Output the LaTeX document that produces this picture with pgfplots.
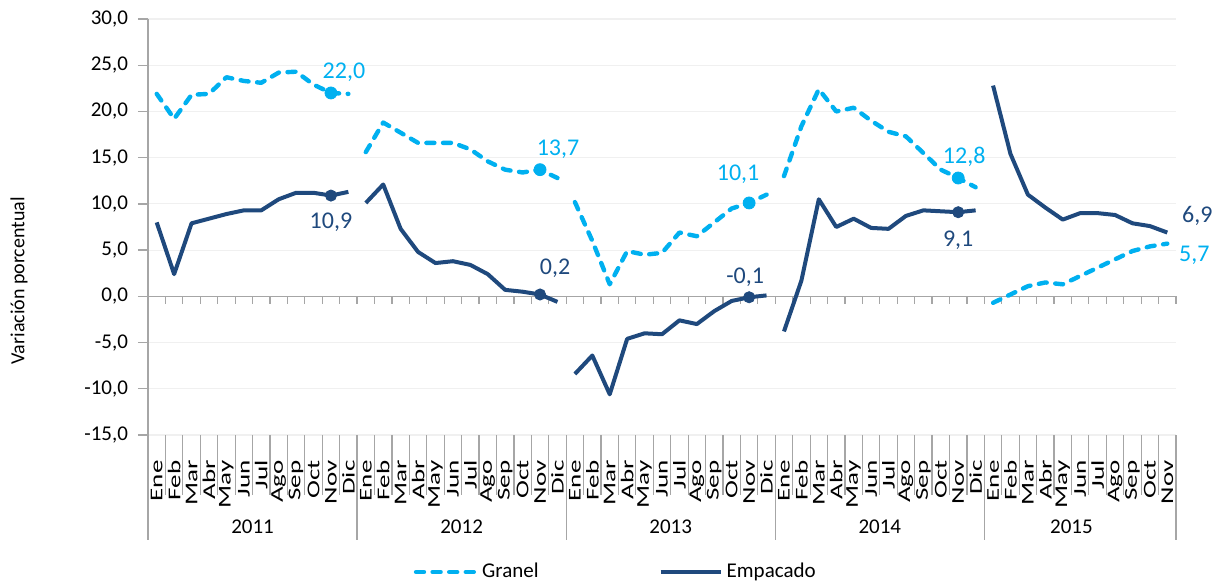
\documentclass[border=0pt]{standalone}
\usepackage{fontspec}
\setmainfont{Carlito}
\newfontfamily\monthfont[FakeStretch=1.5]{Carlito}
\usepackage{pgfplots}
\pgfplotsset{compat=1.18}
\definecolor{granel}{HTML}{00B0F0}
\definecolor{empac}{HTML}{1F497D}
\definecolor{axgray}{HTML}{A6A6A6}
\definecolor{gridgray}{HTML}{F0F0F0}
\begin{document}
\begin{tikzpicture}
\begin{axis}[
  scale only axis,
  width=514pt, height=208pt,
  xmin=-0.5, xmax=58.5,
  ymin=-15, ymax=30,
  ytick={-15,-10,...,30},
  ymajorgrids,
  grid style={gridgray, line width=0.6pt},
  axis x line=bottom,
  axis y line=left,
  x axis line style={draw=none},
  y axis line style={axgray, line width=0.7pt, -},
  ytick style={axgray, line width=0.7pt},
  xtick style={draw=none},
  tick align=outside,
  major tick length=5pt,
  yticklabel style={font=\fontsize{10.5}{12}\selectfont, xshift=-1.5pt},
  /pgf/number format/.cd, fixed, fixed zerofill, precision=1, use comma, assume math mode=true,
  /pgfplots/.cd,
  xtick={0,...,58},
  xticklabels={Ene,Feb,Mar,Abr,May,Jun,Jul,Ago,Sep,Oct,Nov,Dic,
               Ene,Feb,Mar,Abr,May,Jun,Jul,Ago,Sep,Oct,Nov,Dic,
               Ene,Feb,Mar,Abr,May,Jun,Jul,Ago,Sep,Oct,Nov,Dic,
               Ene,Feb,Mar,Abr,May,Jun,Jul,Ago,Sep,Oct,Nov,Dic,
               Ene,Feb,Mar,Abr,May,Jun,Jul,Ago,Sep,Oct,Nov},
  xticklabel style={yshift=-7.5pt, rotate=90, anchor=east, inner sep=0pt,
                    font=\monthfont\fontsize{9}{9}\selectfont},
  clip=false,
  unbounded coords=jump,
  legend columns=2,
  legend style={draw=none, fill=none, at={(0.456,0)}, anchor=center, yshift=-68.5pt,
                font=\fontsize{10.5}{12}\selectfont,
                /tikz/every even column/.append style={column sep=58pt}},
  legend image code/.code={\draw[#1] (0pt,0pt) -- (30pt,0pt);},
]
% zero line and ticks
\draw[axgray, line width=0.7pt] (axis cs:-0.5,0) -- (axis cs:58.5,0);
\pgfplotsinvokeforeach{-0.5,0.5,1.5,2.5,3.5,4.5,5.5,6.5,7.5,8.5,9.5,10.5,11.5,12.5,13.5,14.5,15.5,16.5,17.5,18.5,19.5,20.5,21.5,22.5,23.5,24.5,25.5,26.5,27.5,28.5,29.5,30.5,31.5,32.5,33.5,34.5,35.5,36.5,37.5,38.5,39.5,40.5,41.5,42.5,43.5,44.5,45.5,46.5,47.5,48.5,49.5,50.5,51.5,52.5,53.5,54.5,55.5,56.5,57.5,58.5}{
  \draw[axgray, line width=0.6pt] (axis cs:#1,0) -- (axis cs:#1,-0.87);
  \draw[axgray, line width=0.6pt] (axis cs:#1,-15) -- (axis cs:#1,-21.5);
}
\pgfplotsinvokeforeach{-0.5,11.5,23.5,35.5,47.5,58.5}{
  \draw[axgray, line width=0.6pt] (axis cs:#1,-21.5) -- (axis cs:#1,-26.36);
}
% year labels
\node[font=\fontsize{10.5}{12}\selectfont] at (axis cs:5.5,-24.95) {2011};
\node[font=\fontsize{10.5}{12}\selectfont] at (axis cs:17.5,-24.95) {2012};
\node[font=\fontsize{10.5}{12}\selectfont] at (axis cs:29.5,-24.95) {2013};
\node[font=\fontsize{10.5}{12}\selectfont] at (axis cs:41.5,-24.95) {2014};
\node[font=\fontsize{10.5}{12}\selectfont] at (axis cs:52.5,-24.95) {2015};
% y label
\node[rotate=90, font=\fontsize{10}{12}\selectfont] at ([xshift=-64.5pt]axis cs:-0.5,1.7) {Variación porcentual};

\addplot[granel, line width=2.2pt, dash pattern=on 4pt off 4.3pt, line cap=round, line join=round] table {
x y
0 21.9
1 19.2
2 21.8
3 21.9
4 23.7
5 23.3
6 23.1
7 24.2
8 24.3
9 22.9
10 22.0
11 21.9
11.5 nan
12 15.6
13 18.8
14 17.7
15 16.6
16 16.6
17 16.6
18 15.9
19 14.6
20 13.7
21 13.4
22 13.7
23 12.8
23.5 nan
24 10.2
25 6.0
26 1.3
27 4.9
28 4.5
29 4.7
30 6.9
31 6.5
32 8.0
33 9.5
34 10.1
35 11.0
35.5 nan
36 13.0
37 18.4
38 22.4
39 20.0
40 20.4
41 19.0
42 17.8
43 17.3
44 15.5
45 13.7
46 12.8
47 11.8
47.5 nan
48 -0.7
49 0.2
50 1.1
51 1.5
52 1.3
53 2.2
54 3.1
55 4.0
56 4.9
57 5.4
58 5.7
};
\addlegendentry{Granel}
\addplot[empac, line width=2pt, line join=round] table {
x y
0 8.0
1 2.4
2 7.9
3 8.4
4 8.9
5 9.3
6 9.3
7 10.5
8 11.2
9 11.2
10 10.9
11 11.3
11.5 nan
12 10.1
13 12.1
14 7.3
15 4.8
16 3.6
17 3.8
18 3.4
19 2.4
20 0.7
21 0.5
22 0.2
23 -0.6
23.5 nan
24 -8.4
25 -6.4
26 -10.6
27 -4.6
28 -4.0
29 -4.1
30 -2.6
31 -3.0
32 -1.6
33 -0.5
34 -0.1
35 0.1
35.5 nan
36 -3.8
37 1.7
38 10.5
39 7.5
40 8.4
41 7.4
42 7.3
43 8.7
44 9.3
45 9.2
46 9.1
47 9.3
47.5 nan
48 22.8
49 15.4
50 11.0
51 9.6
52 8.3
53 9.0
54 9.0
55 8.8
56 7.9
57 7.6
58 6.9
};
\addlegendentry{Empacado}
% markers
\addplot[only marks, mark=*, mark size=3pt, granel, forget plot] coordinates {(10,22.0) (22,13.7) (34,10.1) (46,12.8)};
\addplot[only marks, mark=*, mark size=2.8pt, empac, forget plot] coordinates {(10,10.9) (22,0.2) (34,-0.1) (46,9.1)};
% data labels
\begin{scope}[every node/.style={font=\fontsize{12}{14}\selectfont, inner sep=0pt}]
\node[granel] at ([xshift=6.5pt,yshift=10.5pt]axis cs:10,22.0) {22,0};
\node[empac]  at ([xshift=0pt,yshift=-13.5pt]axis cs:10,10.9) {10,9};
\node[granel] at ([xshift=9pt,yshift=10pt]axis cs:22,13.7) {13,7};
\node[empac]  at ([xshift=7.5pt,yshift=13pt]axis cs:22,0.2) {0,2};
\node[granel] at ([xshift=-5.5pt,yshift=14.5pt]axis cs:34,10.1) {10,1};
\node[empac]  at ([xshift=-2pt,yshift=10pt]axis cs:34,-0.1) {-0,1};
\node[granel] at ([xshift=3pt,yshift=10.5pt]axis cs:46,12.8) {12,8};
\node[empac]  at ([xshift=0pt,yshift=-14pt]axis cs:46,9.1) {9,1};
\node[empac]  at ([xshift=15pt,yshift=8.5pt]axis cs:58,6.9) {6,9};
\node[granel] at ([xshift=13.5pt,yshift=-6pt]axis cs:58,5.7) {5,7};
\end{scope}
\coordinate (ll) at (rel axis cs:0,0);
\coordinate (ur) at (rel axis cs:1,1);
\end{axis}
\pgfresetboundingbox
\path[use as bounding box] ([xshift=-74pt,yshift=-74pt]ll) rectangle ([xshift=21pt,yshift=9.5pt]ur);
\end{tikzpicture}
\end{document}
